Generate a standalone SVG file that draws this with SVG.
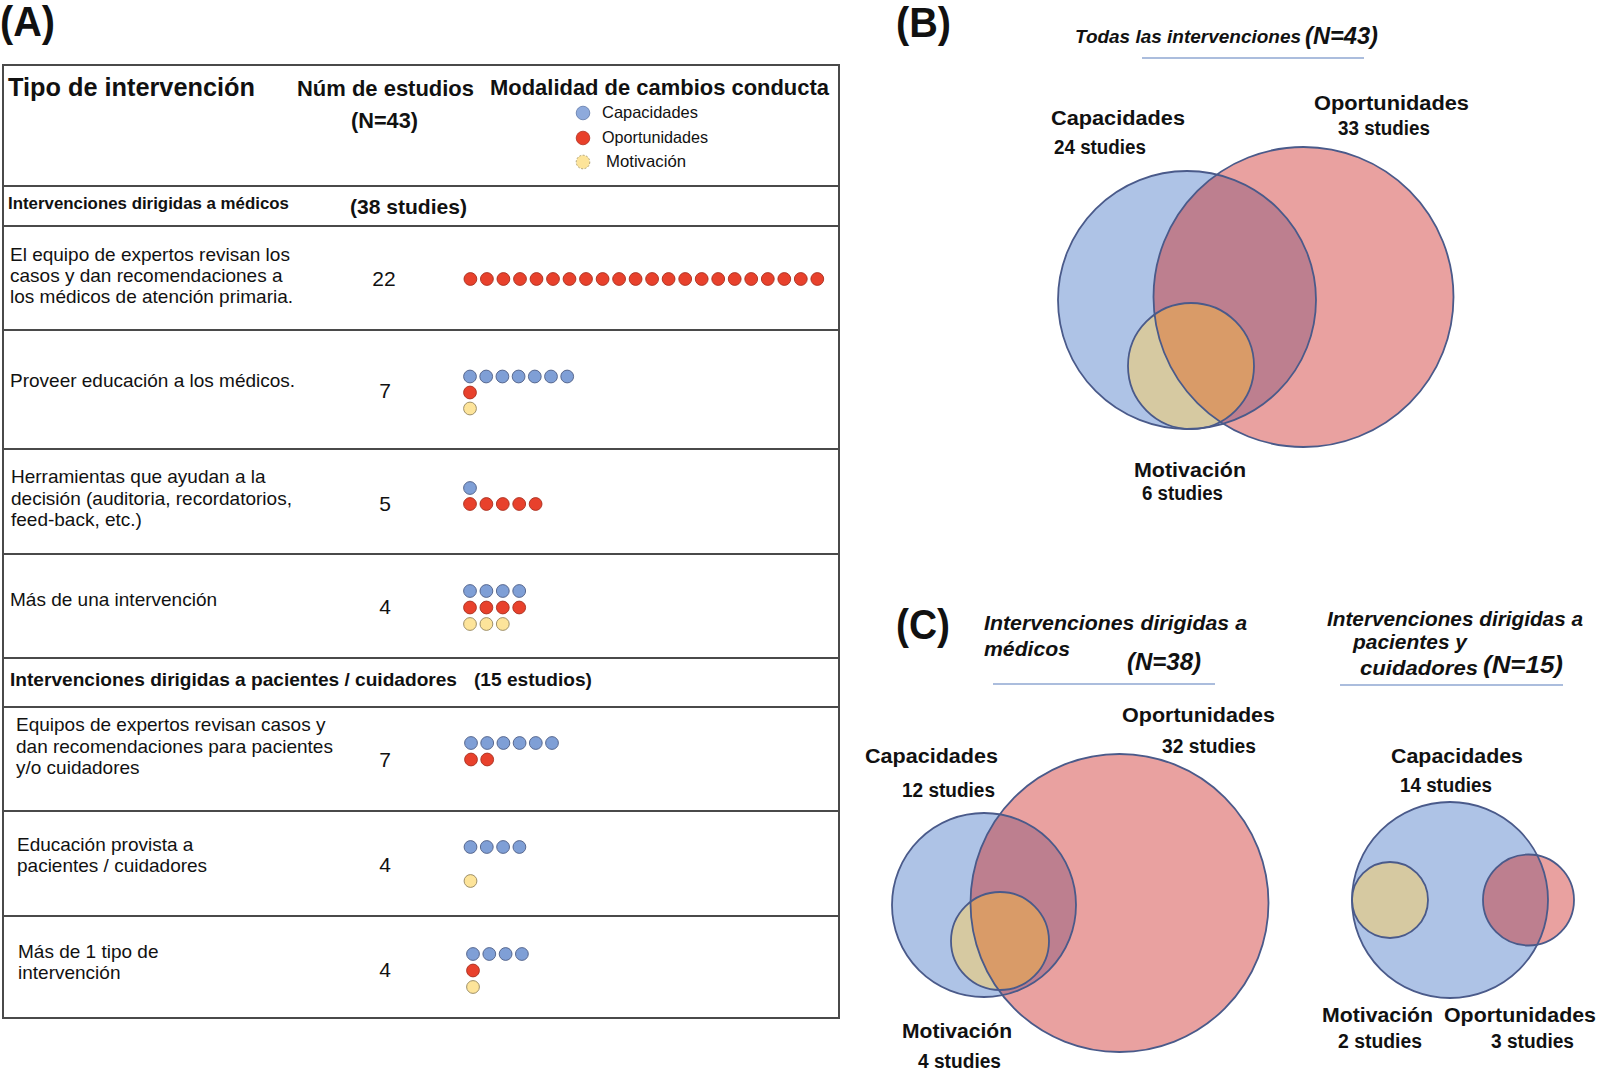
<svg xmlns="http://www.w3.org/2000/svg" xmlns:xlink="http://www.w3.org/1999/xlink" width="1600" height="1077" viewBox="0 0 1600 1077">
<style>
text{font-family:"Liberation Sans",Arial,sans-serif;fill:#111}
.pl{font-size:42px;font-weight:bold}
.h1{font-size:25px;font-weight:bold}
.h2{font-size:22px;font-weight:bold}
.sec{font-size:17px;font-weight:bold}
.sec2{font-size:19px;font-weight:bold}
.st{font-size:21px;font-weight:bold}
.tx{font-size:19px}
.lg{font-size:16.5px}
.num{font-size:21px;text-anchor:middle}
.vl{font-size:20px;font-weight:bold}
.ti{font-size:21px;font-style:italic;font-weight:bold}
.tn{font-size:24px;font-style:italic;font-weight:bold}
.grid{stroke:#4a4a4a;stroke-width:2;fill:none}
.db{fill:#7f9fd6;stroke:#4f5f86;stroke-width:0.9}
.dr{fill:#e8412c;stroke:#a8301f;stroke-width:0.9}
.dy{fill:#fde49a;stroke:#948660;stroke-width:0.9}
.cb{fill:#aec3e6}
.cr{fill:#e9a1a0}
.cm{fill:#bd7f8f}
.ct{fill:#d6c9a1}
.co{fill:#d99b68}
.ol{fill:none;stroke:#4a5a8a;stroke-width:1.8}
.ul{stroke:#8fa7d2;stroke-width:1.6}
</style>
<defs>
<circle id="b" r="6.4" class="db"/>
<circle id="r" r="6.4" class="dr"/>
<circle id="y" r="6.4" class="dy"/>
<clipPath id="kBb"><circle cx="1187" cy="300" r="129"/></clipPath>
<clipPath id="kBr"><circle cx="1303.5" cy="297" r="150"/></clipPath>
<clipPath id="kLb"><circle cx="984" cy="905" r="92"/></clipPath>
<clipPath id="kLr"><circle cx="1119.5" cy="903" r="149"/></clipPath>
<clipPath id="kRb"><circle cx="1450" cy="900" r="98"/></clipPath>
</defs>
<rect width="1600" height="1077" fill="#fff"/>

<!-- Panel labels -->
<text class="pl" x="0" y="36" textLength="55" lengthAdjust="spacingAndGlyphs">(A)</text>
<text class="pl" x="896" y="37" textLength="55" lengthAdjust="spacingAndGlyphs">(B)</text>
<text class="pl" x="896" y="639" textLength="54" lengthAdjust="spacingAndGlyphs">(C)</text>

<!-- Table frame and rules -->
<g id="table-grid" class="grid">
<rect x="3" y="65" width="836" height="953"/>
<line x1="3" y1="186" x2="839" y2="186"/>
<line x1="3" y1="226" x2="839" y2="226"/>
<line x1="3" y1="330" x2="839" y2="330"/>
<line x1="3" y1="449" x2="839" y2="449"/>
<line x1="3" y1="554" x2="839" y2="554"/>
<line x1="3" y1="658" x2="839" y2="658"/>
<line x1="3" y1="707" x2="839" y2="707"/>
<line x1="3" y1="811" x2="839" y2="811"/>
<line x1="3" y1="916" x2="839" y2="916"/>
</g>

<g id="table-header">
<text class="h1" x="8" y="96" textLength="247" lengthAdjust="spacingAndGlyphs">Tipo de intervención</text>
<text class="h2" x="297" y="96" textLength="177" lengthAdjust="spacingAndGlyphs">Núm de estudios</text>
<text class="h2" x="351" y="128" textLength="67" lengthAdjust="spacingAndGlyphs">(N=43)</text>
<text class="h2" x="490" y="95" textLength="339" lengthAdjust="spacingAndGlyphs">Modalidad de cambios conducta</text>
<circle cx="583" cy="113" r="6.8" fill="#8eaadc" stroke="#6078a8" stroke-width="0.8"/>
<circle cx="583" cy="138" r="6.8" fill="#e8402a" stroke="#b03020" stroke-width="0.8"/>
<circle cx="583" cy="162" r="6.8" fill="#fde49a" stroke="#a09060" stroke-width="0.8" stroke-dasharray="2 1.5"/>
<text class="lg" x="602" y="118" textLength="96" lengthAdjust="spacingAndGlyphs">Capacidades</text>
<text class="lg" x="602" y="143" textLength="106" lengthAdjust="spacingAndGlyphs">Oportunidades</text>
<text class="lg" x="606" y="167" textLength="80" lengthAdjust="spacingAndGlyphs">Motivación</text>
</g>

<g id="section-medicos">
<text class="sec" x="8" y="209" textLength="281" lengthAdjust="spacingAndGlyphs">Intervenciones dirigidas a médicos</text>
<text class="st" x="350" y="214" textLength="117" lengthAdjust="spacingAndGlyphs">(38 studies)</text>
</g>

<g id="row-1">
<text class="tx" x="10" y="261">El equipo de expertos revisan los</text>
<text class="tx" x="10" y="282">casos y dan recomendaciones a</text>
<text class="tx" x="10" y="303">los médicos de atención primaria.</text>
<text class="num" x="384" y="286">22</text>
<use href="#r" x="470.4" y="279"/><use href="#r" x="486.9" y="279"/><use href="#r" x="503.4" y="279"/><use href="#r" x="520" y="279"/><use href="#r" x="536.5" y="279"/><use href="#r" x="553" y="279"/><use href="#r" x="569.5" y="279"/><use href="#r" x="586" y="279"/><use href="#r" x="602.6" y="279"/><use href="#r" x="619.1" y="279"/><use href="#r" x="635.6" y="279"/><use href="#r" x="652.1" y="279"/><use href="#r" x="668.6" y="279"/><use href="#r" x="685.2" y="279"/><use href="#r" x="701.7" y="279"/><use href="#r" x="718.2" y="279"/><use href="#r" x="734.7" y="279"/><use href="#r" x="751.2" y="279"/><use href="#r" x="767.8" y="279"/><use href="#r" x="784.3" y="279"/><use href="#r" x="800.8" y="279"/><use href="#r" x="817.3" y="279"/>
</g>

<g id="row-2">
<text class="tx" x="10" y="387">Proveer educación a los médicos.</text>
<text class="num" x="385" y="398">7</text>
<use href="#b" x="470" y="376.5"/><use href="#b" x="486.2" y="376.5"/><use href="#b" x="502.4" y="376.5"/><use href="#b" x="518.6" y="376.5"/><use href="#b" x="534.8" y="376.5"/><use href="#b" x="551" y="376.5"/><use href="#b" x="567.2" y="376.5"/>
<use href="#r" x="470" y="392.5"/>
<use href="#y" x="470" y="408.5"/>
</g>

<g id="row-3">
<text class="tx" x="11" y="483">Herramientas que ayudan a la</text>
<text class="tx" x="11" y="505">decisión (auditoria, recordatorios,</text>
<text class="tx" x="11" y="526">feed-back, etc.)</text>
<text class="num" x="385" y="511">5</text>
<use href="#b" x="470" y="488"/>
<use href="#r" x="470" y="504"/><use href="#r" x="486.4" y="504"/><use href="#r" x="502.8" y="504"/><use href="#r" x="519.2" y="504"/><use href="#r" x="535.6" y="504"/>
</g>

<g id="row-4">
<text class="tx" x="10" y="606">Más de una intervención</text>
<text class="num" x="385" y="614">4</text>
<use href="#b" x="470" y="591"/><use href="#b" x="486.4" y="591"/><use href="#b" x="502.8" y="591"/><use href="#b" x="519.2" y="591"/>
<use href="#r" x="470" y="607.5"/><use href="#r" x="486.4" y="607.5"/><use href="#r" x="502.8" y="607.5"/><use href="#r" x="519.2" y="607.5"/>
<use href="#y" x="470" y="624"/><use href="#y" x="486.4" y="624"/><use href="#y" x="502.8" y="624"/>
</g>

<g id="section-pacientes">
<text class="sec2" x="10" y="686" textLength="447" lengthAdjust="spacingAndGlyphs">Intervenciones dirigidas a pacientes / cuidadores</text>
<text class="sec2" x="474" y="686" textLength="118" lengthAdjust="spacingAndGlyphs">(15 estudios)</text>
</g>

<g id="row-5">
<text class="tx" x="16" y="731">Equipos de expertos revisan casos y</text>
<text class="tx" x="16" y="753">dan recomendaciones para pacientes</text>
<text class="tx" x="16" y="774">y/o cuidadores</text>
<text class="num" x="385" y="767">7</text>
<use href="#b" x="471" y="743"/><use href="#b" x="487.2" y="743"/><use href="#b" x="503.4" y="743"/><use href="#b" x="519.6" y="743"/><use href="#b" x="535.8" y="743"/><use href="#b" x="552" y="743"/>
<use href="#r" x="471" y="759.5"/><use href="#r" x="487.2" y="759.5"/>
</g>

<g id="row-6">
<text class="tx" x="17" y="851">Educación provista a</text>
<text class="tx" x="17" y="872">pacientes / cuidadores</text>
<text class="num" x="385" y="872">4</text>
<use href="#b" x="470.5" y="847"/><use href="#b" x="486.8" y="847"/><use href="#b" x="503.1" y="847"/><use href="#b" x="519.4" y="847"/>
<use href="#y" x="470.5" y="881"/>
</g>

<g id="row-7">
<text class="tx" x="18" y="958">Más de 1 tipo de</text>
<text class="tx" x="18" y="979">intervención</text>
<text class="num" x="385" y="977">4</text>
<use href="#b" x="473" y="954"/><use href="#b" x="489.3" y="954"/><use href="#b" x="505.6" y="954"/><use href="#b" x="521.9" y="954"/>
<use href="#r" x="473" y="970.5"/>
<use href="#y" x="473" y="987"/>
</g>

<!-- Panel B -->
<g id="B-title">
<text class="ti" x="1075" y="43" style="font-size:18px" textLength="226" lengthAdjust="spacingAndGlyphs">Todas las intervenciones</text>
<text class="tn" x="1305" y="44" textLength="73" lengthAdjust="spacingAndGlyphs">(N=43)</text>
<line class="ul" x1="1142" y1="58" x2="1364" y2="58"/>
</g>
<g id="B-venn">
<g id="B-capacidades"><circle class="cb" cx="1187" cy="300" r="129"/></g>
<g id="B-oportunidades">
<circle class="cr" cx="1303.5" cy="297" r="150"/>
<circle class="cm" cx="1303.5" cy="297" r="150" clip-path="url(#kBb)"/>
</g>
<g id="B-motivacion">
<circle class="ct" cx="1191" cy="366" r="63"/>
<circle class="co" cx="1191" cy="366" r="63" clip-path="url(#kBr)"/>
</g>
<circle class="ol" cx="1187" cy="300" r="129"/>
<circle class="ol" cx="1303.5" cy="297" r="150"/>
<circle class="ol" cx="1191" cy="366" r="63"/>
</g>
<g id="B-labels">
<text class="vl" x="1051" y="125" textLength="134" lengthAdjust="spacingAndGlyphs">Capacidades</text>
<text class="vl" x="1054" y="154" textLength="92" lengthAdjust="spacingAndGlyphs">24 studies</text>
<text class="vl" x="1314" y="110" textLength="155" lengthAdjust="spacingAndGlyphs">Oportunidades</text>
<text class="vl" x="1338" y="135" textLength="92" lengthAdjust="spacingAndGlyphs">33 studies</text>
<text class="vl" x="1134" y="477" textLength="112" lengthAdjust="spacingAndGlyphs">Motivación</text>
<text class="vl" x="1142" y="500" textLength="81" lengthAdjust="spacingAndGlyphs">6 studies</text>
</g>

<!-- Panel C left -->
<g id="C-left-title">
<text class="ti" x="984" y="630" textLength="263" lengthAdjust="spacingAndGlyphs">Intervenciones dirigidas a</text>
<text class="ti" x="984" y="656" textLength="86" lengthAdjust="spacingAndGlyphs">médicos</text>
<text class="tn" x="1127" y="670" textLength="74" lengthAdjust="spacingAndGlyphs">(N=38)</text>
<line class="ul" x1="993" y1="684" x2="1215" y2="684"/>
</g>
<g id="C-left-venn">
<g id="CL-capacidades"><circle class="cb" cx="984" cy="905" r="92"/></g>
<g id="CL-oportunidades">
<circle class="cr" cx="1119.5" cy="903" r="149"/>
<circle class="cm" cx="1119.5" cy="903" r="149" clip-path="url(#kLb)"/>
</g>
<g id="CL-motivacion">
<circle class="ct" cx="1000" cy="941" r="49"/>
<circle class="co" cx="1000" cy="941" r="49" clip-path="url(#kLr)"/>
</g>
<circle class="ol" cx="984" cy="905" r="92"/>
<circle class="ol" cx="1119.5" cy="903" r="149"/>
<circle class="ol" cx="1000" cy="941" r="49"/>
</g>
<g id="C-left-labels">
<text class="vl" x="1122" y="722" textLength="153" lengthAdjust="spacingAndGlyphs">Oportunidades</text>
<text class="vl" x="1162" y="753" textLength="94" lengthAdjust="spacingAndGlyphs">32 studies</text>
<text class="vl" x="865" y="763" textLength="133" lengthAdjust="spacingAndGlyphs">Capacidades</text>
<text class="vl" x="902" y="797" textLength="93" lengthAdjust="spacingAndGlyphs">12 studies</text>
<text class="vl" x="902" y="1038" textLength="110" lengthAdjust="spacingAndGlyphs">Motivación</text>
<text class="vl" x="918" y="1068" textLength="83" lengthAdjust="spacingAndGlyphs">4 studies</text>
</g>

<!-- Panel C right -->
<g id="C-right-title">
<text class="ti" x="1327" y="626" textLength="256" lengthAdjust="spacingAndGlyphs">Intervenciones dirigidas a</text>
<text class="ti" x="1353" y="649" textLength="114" lengthAdjust="spacingAndGlyphs">pacientes y</text>
<text class="ti" x="1360" y="675" textLength="118" lengthAdjust="spacingAndGlyphs">cuidadores</text>
<text class="tn" x="1483" y="673" textLength="80" lengthAdjust="spacingAndGlyphs">(N=15)</text>
<line class="ul" x1="1340" y1="685" x2="1563" y2="685"/>
</g>
<g id="C-right-venn">
<g id="CR-capacidades"><circle class="cb" cx="1450" cy="900" r="98"/></g>
<g id="CR-motivacion"><circle class="ct" cx="1390" cy="900" r="38"/></g>
<g id="CR-oportunidades">
<circle class="cr" cx="1528.5" cy="900" r="45.5"/>
<circle class="cm" cx="1528.5" cy="900" r="45.5" clip-path="url(#kRb)"/>
</g>
<circle class="ol" cx="1450" cy="900" r="98"/>
<circle class="ol" cx="1390" cy="900" r="38"/>
<circle class="ol" cx="1528.5" cy="900" r="45.5"/>
</g>
<g id="C-right-labels">
<text class="vl" x="1391" y="763" textLength="132" lengthAdjust="spacingAndGlyphs">Capacidades</text>
<text class="vl" x="1400" y="792" textLength="92" lengthAdjust="spacingAndGlyphs">14 studies</text>
<text class="vl" x="1322" y="1022" textLength="111" lengthAdjust="spacingAndGlyphs">Motivación</text>
<text class="vl" x="1444" y="1022" textLength="152" lengthAdjust="spacingAndGlyphs">Oportunidades</text>
<text class="vl" x="1338" y="1048" textLength="84" lengthAdjust="spacingAndGlyphs">2 studies</text>
<text class="vl" x="1491" y="1048" textLength="83" lengthAdjust="spacingAndGlyphs">3 studies</text>
</g>

<g id="connectors"></g>
</svg>
